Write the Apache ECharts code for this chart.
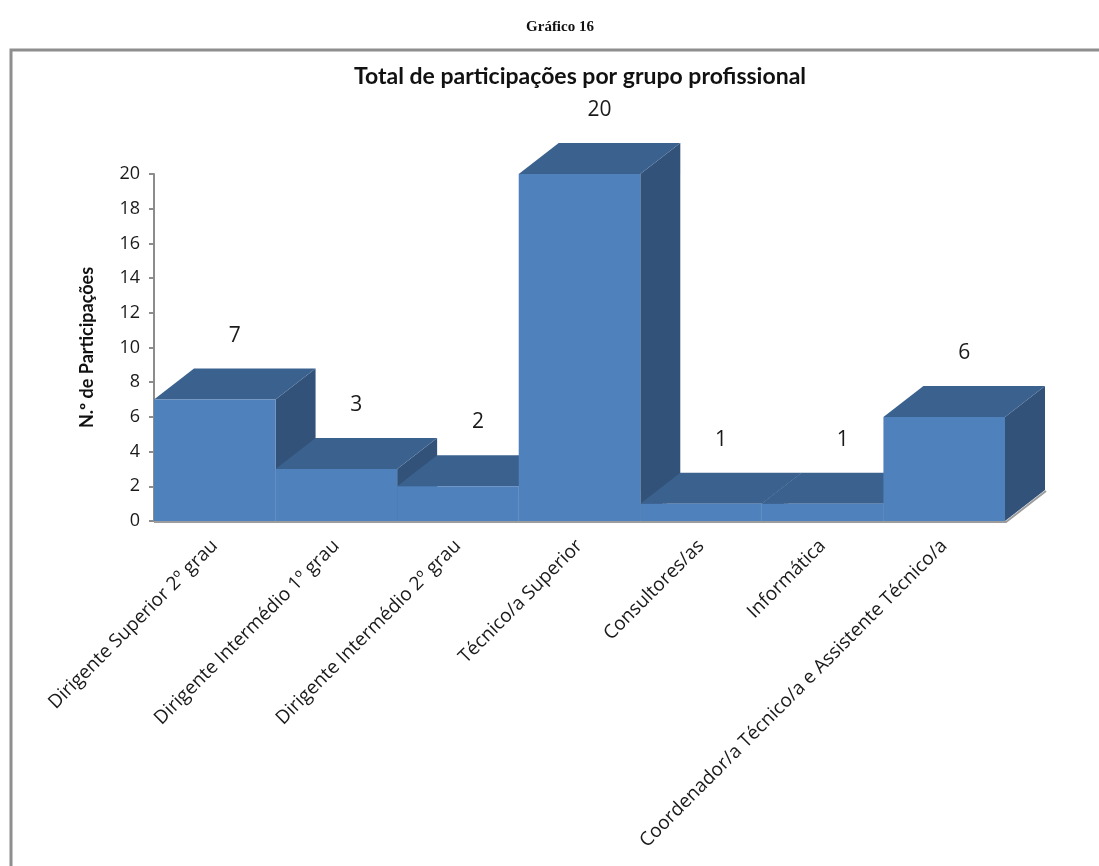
<!DOCTYPE html>
<html>
<head>
<meta charset="utf-8">
<script src="https://cdn.jsdelivr.net/npm/echarts@6/dist/echarts.min.js"></script>
<style>
  html, body { margin: 0; padding: 0; background: #fff; }
  #chart { width: 1099px; height: 866px; }
</style>
</head>
<body>
<div id="chart"></div>
<script>
var categories = [
  'Dirigente Superior 2º grau',
  'Dirigente Intermédio 1º grau',
  'Dirigente Intermédio 2º grau',
  'Técnico/a Superior',
  'Consultores/as',
  'Informática',
  'Coordenador/a Técnico/a e Assistente Técnico/a'
];
var participacoes = [7, 3, 2, 20, 1, 1, 6];

// 3D look
var DX = 40, DY = -31;
var FRONT = '#4f81bd', TOP = '#3b628f', SIDE = '#325279';

var myChart = echarts.init(document.getElementById('chart'));

function renderBar(params, api) {
  var i = api.value(0);
  var v = api.value(1);
  var w = api.size([1, 0])[0];
  var top = api.coord([i, v]);
  var base = api.coord([i, 0]);
  var x0 = top[0] - w / 2, x1 = top[0] + w / 2;
  var yt = top[1], yb = base[1];
  return {
    type: 'group',
    children: [
      { // shadow on the floor
        type: 'polyline',
        shape: { points: [[x0, yb + 1], [x1 + 1, yb + 1], [x1 + DX + 1, yb + DY + 1]] },
        style: { stroke: '#9c9c9c', lineWidth: 2, fill: null }
      },
      {
        type: 'polygon',
        shape: { points: [[x1, yt], [x1 + DX, yt + DY], [x1 + DX, yb + DY], [x1, yb]] },
        style: { fill: SIDE }
      },
      {
        type: 'polygon',
        shape: { points: [[x0, yt], [x0 + DX, yt + DY], [x1 + DX, yt + DY], [x1, yt]] },
        style: { fill: TOP }
      },
      {
        type: 'rect',
        shape: { x: x0, y: yt, width: w, height: yb - yt },
        style: { fill: FRONT }
      },
      {
        type: 'text',
        x: top[0] + 20,
        y: yt - 64,
        style: {
          text: String(v),
          fill: '#1a1a1a',
          font: '21px "Open Sans", sans-serif',
          align: 'center',
          verticalAlign: 'middle'
        }
      }
    ]
  };
}

var option = {
  animation: false,
  backgroundColor: '#fff',
  graphic: [
    {
      type: 'rect',
      shape: { x: 11, y: 50, width: 1300, height: 1000 },
      style: { fill: null, stroke: '#8e8e8e', lineWidth: 3 },
      z: 0
    },
    {
      type: 'text',
      x: 560, y: 27,
      style: {
        text: 'Gráfico 16',
        font: 'bold 15px "Liberation Serif", serif',
        fill: '#111',
        align: 'center',
        verticalAlign: 'middle'
      }
    }
  ],
  title: {
    text: 'Total de participações por grupo profissional',
    left: 575,
    textAlign: 'center',
    top: 60,
    textStyle: { fontFamily: 'Lato', fontWeight: 'bold', fontSize: 23, color: '#111' }
  },
  grid: { left: 154, right: 94, top: 174, bottom: 345, containLabel: false },
  xAxis: {
    type: 'category',
    data: categories,
    axisLine: { show: true, lineStyle: { color: '#9c9c9c', width: 1 } },
    axisTick: { show: false },
    axisLabel: {
      interval: 0,
      rotate: 45,
      margin: 22,
      fontFamily: 'Open Sans',
      fontSize: 19,
      color: '#1a1a1a'
    }
  },
  yAxis: {
    type: 'value',
    min: 0,
    max: 20,
    interval: 2,
    name: 'N.º de Participações',
    nameLocation: 'middle',
    nameGap: 58,
    nameTextStyle: { fontFamily: 'Lato', fontWeight: 'bold', fontSize: 18, color: '#111' },
    axisLine: { show: true, lineStyle: { color: '#8c8c8c', width: 2 } },
    axisTick: { show: true, length: 5, lineStyle: { color: '#8c8c8c', width: 2 } },
    axisLabel: { fontFamily: 'Open Sans', fontSize: 18, color: '#1a1a1a', margin: 14 },
    splitLine: { show: false }
  },
  series: [{
    type: 'custom',
    renderItem: renderBar,
    encode: { x: 0, y: 1 },
    data: participacoes.map(function (v, i) { return [i, v]; }),
    z: 3
  }]
};
myChart.setOption(option);
</script>
</body>
</html>
